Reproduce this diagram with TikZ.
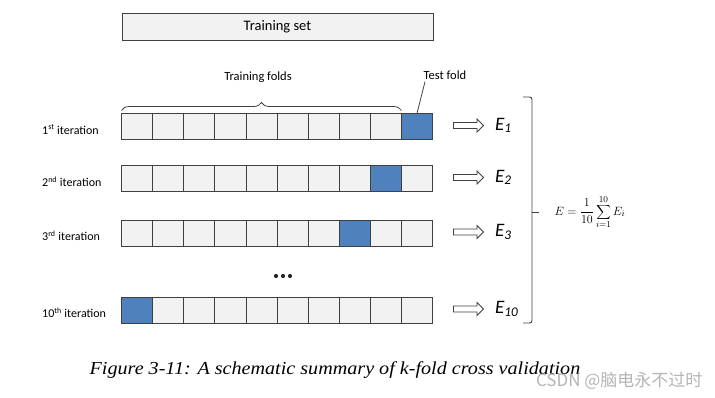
\documentclass[tikz,border=0pt]{standalone}
\usepackage[no-math]{fontspec}
\setmainfont{Carlito}
\newfontfamily\capfont[FakeStretch=1.1]{Liberation Serif}
\newfontfamily\cjkfont{Noto Sans CJK SC}
\usetikzlibrary{positioning,shapes.arrows,shadows,decorations.pathreplacing}

\definecolor{foldgray}{HTML}{F2F2F2}
\definecolor{foldblue}{HTML}{4F81BD}
\definecolor{edgegray}{HTML}{404040}
\definecolor{markgray}{HTML}{B4B4B4}

\tikzset{
  fold/.style={draw=edgegray, fill=foldgray, line width=0.8pt, minimum width=31.1pt,
    minimum height=26pt, inner sep=0pt, outer sep=0pt},
  testfold/.style={fold, fill=foldblue},
  iterlabel/.style={anchor=west, inner sep=0pt, font=\fontsize{12}{13}\selectfont},
  hollowarrow/.style={single arrow, draw=edgegray, fill=white, line width=0.8pt,
    minimum height=30pt, inner sep=2.6pt, single arrow head extend=3.6pt,
    single arrow head indent=0pt},
  errlabel/.style={anchor=west, inner sep=0pt, font=\fontsize{19}{22}\selectfont\itshape},
}

\begin{document}
\begin{tikzpicture}[x=1pt,y=-1pt]
\useasboundingbox (0,0) rectangle (715,398);

%Shape: Rectangle [id:training set]
\node [fold, minimum width=311pt, minimum height=27pt,
  drop shadow={shadow xshift=0.4pt, shadow yshift=-1.2pt, opacity=0.35},
  font=\fontsize{14.5}{16}\selectfont] (set) at (277.5,26.5) {Training set};

%Rows of folds
\foreach \r/\y/\t/\lab in {1/126.5/10/{1\textsuperscript{st} iteration},
    2/178.5/9/{2\textsuperscript{nd} iteration},
    3/233/8/{3\textsuperscript{rd} iteration},
    10/310/1/{10\textsuperscript{th} iteration}}{
  \node [iterlabel] (lab\r) at (42,\y+3) {\lab};
  \foreach \c in {1,...,10}{
    \ifnum\c=\t
      \node [testfold] (r\r c\c) at (121.5+31.1*\c-15.55,\y) {};
    \else
      \node [fold] (r\r c\c) at (121.5+31.1*\c-15.55,\y) {};
    \fi
  }
  \node [hollowarrow] (arr\r) at (467,\y-1) {};
  \node [errlabel] (err\r) at (495,\y-1) {E\textsubscript{\r}};
}

%Dots
\foreach \d in {276,283,290}
  \fill [black!85] (\d,276) circle [radius=2.1];

%Brace over training folds
\draw [edgegray, line width=0.8pt, decorate, decoration={brace, amplitude=8pt}]
  ([yshift=3pt]r1c1.north west) -- ([yshift=3pt]r1c9.north east);

% Text Node
\node [inner sep=0pt, font=\fontsize{12.5}{14}\selectfont] (folds) at (258,77) {Training folds};
\node [inner sep=0pt, font=\fontsize{12.5}{14}\selectfont] (testlbl) at (445,75) {Test fold};
\draw [edgegray, line width=0.8pt] ([xshift=1.5pt,yshift=-2pt]testlbl.south west) -- (r1c10.north);

%Bracket round the errors
\draw [edgegray, line width=0.9pt, rounded corners=2.5pt]
  (523,97) -- (532,97) -- (532,323) -- (523,323);
\draw [edgegray, line width=0.9pt] (532,212) -- (539,212);

% Formula
\node [font=\fontsize{13}{15}\selectfont] (mean) at (590,212)
  {$\displaystyle E=\frac{1}{10}\sum_{i=1}^{10}E_i$};

% Caption
\node [font=\capfont\itshape\fontsize{18.3}{20}\selectfont] (caption) at (335,370)
  {Figure 3-11: A schematic summary of k-fold cross validation};
\node [anchor=east, text=markgray, font=\cjkfont\fontsize{17}{19}\selectfont] (mark) at (706,381)
  {CSDN @脑电永不过时};

\end{tikzpicture}
\end{document}
